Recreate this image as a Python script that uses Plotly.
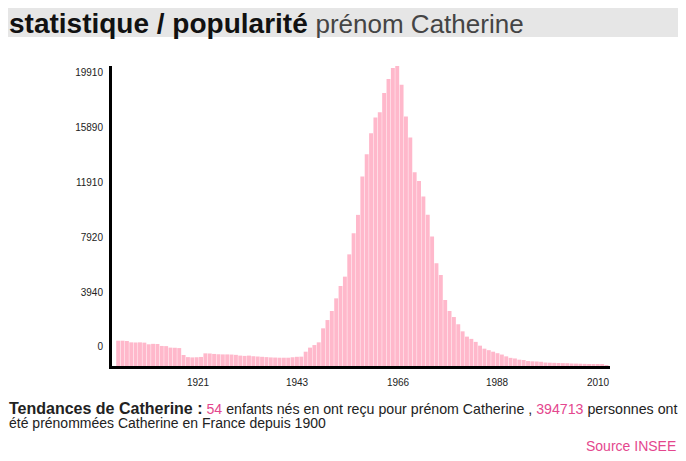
import plotly.graph_objects as go

# ---- data ----
years = list(range(1900, 2013))
births = [
    1680, 1680, 1660, 1570, 1560, 1570, 1550, 1440, 1470, 1460,   # 1900-1909
    1330, 1320, 1220, 1210, 1190, 730, 590, 570, 580, 600,        # 1910-1919
    840, 830, 800, 780, 770, 770, 760, 740, 690, 670,             # 1920-1929
    690, 650, 630, 610, 590, 570, 560, 550, 550, 550,             # 1930-1939
    580, 610, 620, 950, 1220, 1390, 1570, 2500, 3050, 3650,       # 1940-1949
    4490, 5310, 5930, 7410, 8810, 10030, 12570, 14050, 15450, 16490,  # 1950-1959
    16840, 18110, 19040, 19770, 19910, 18660, 16560, 15160, 12860, 12280,  # 1960-1969
    11250, 10030, 8590, 6820, 6040, 4380, 3650, 3250, 2770, 2300,  # 1970-1979
    1950, 1800, 1600, 1350, 1150, 1050, 950, 850, 760, 640,        # 1980-1989
    540, 500, 420, 400, 330, 310, 300, 280, 230, 220,              # 1990-1999
    210, 200, 190, 185, 165, 160, 150, 140, 130, 120,              # 2000-2009
    95, 75, 54,                                                    # 2010-2012
]
x_tick_labels = ["1921", "1943", "1966", "1988", "2010"]
y_tick_labels = ["0", "3940", "7920", "11910", "15890", "19910"]

# ---- geometry (pixels in the 686x461 window; page body has an 8px margin) ----
OFF = 8
W, H = 686 - OFF, 461 - OFF
PL, PR, PT, PB = 112, 610, 66, 366          # plot area edges (window coords)
YMAX = 19910
PX_PER_YEAR = 4.36
XMIN = years[0] - 0.5 - 4.0 / PX_PER_YEAR
XMAX = XMIN + (PR - PL) / PX_PER_YEAR


def px_to_year(px):
    return XMIN + (px - PL) / PX_PER_YEAR


def py_to_val(py):
    return (PB - py) / (PB - PT) * YMAX


def pxp(px):
    return (px - PL) / (PR - PL)


def pyp(py):
    return (PB - py) / (PB - PT)


x_tick_px = [198, 297, 398, 497, 598]
y_tick_py = [346, 292, 237, 182, 127, 72]

FONT = "Liberation Sans, Arial, Helvetica, sans-serif"
PINK = "#ffb8cb"
MAGENTA = "#e4478e"

fig = go.Figure()
fig.add_trace(go.Bar(
    x=years, y=births,
    marker=dict(color=PINK, line=dict(width=0)),
    hoverinfo="x+y",
))

fig.update_layout(
    width=W, height=H,
    margin=dict(l=PL - OFF, r=686 - PR, t=PT - OFF, b=461 - PB, pad=0),
    paper_bgcolor="white", plot_bgcolor="white",
    bargap=0.1,
    showlegend=False,
    font=dict(family=FONT, color="#222"),
    xaxis=dict(
        range=[XMIN, XMAX], showgrid=False, zeroline=False,
        showline=True, linecolor="black", linewidth=3,
        tickmode="array", tickvals=[px_to_year(p) for p in x_tick_px],
        ticktext=x_tick_labels, ticks="", tickfont=dict(size=10, color="#222"),
        ticklabelstandoff=5,
        fixedrange=True,
    ),
    yaxis=dict(
        range=[0, YMAX], showgrid=False, zeroline=False,
        showline=True, linecolor="black", linewidth=3,
        tickmode="array", tickvals=[py_to_val(p) for p in y_tick_py],
        ticktext=y_tick_labels, ticks="", tickfont=dict(size=10, color="#222"),
        ticklabelstandoff=4,
        fixedrange=True,
    ),
    shapes=[dict(
        type="rect", xref="paper", yref="paper", layer="below",
        x0=pxp(8), x1=pxp(678), y0=pyp(37), y1=pyp(8),
        fillcolor="#e6e6e6", line=dict(width=0),
    )],
    annotations=[
        dict(xref="paper", yref="paper", x=pxp(7), y=pyp(23),
             xanchor="left", yanchor="middle", showarrow=False,
             text=("<b>statistique / popularité</b> "
                   "<span style='color:#444;font-size:26px'>prénom Catherine</span>"),
             font=dict(family=FONT, size=28, color="#111")),
        dict(xref="paper", yref="paper", x=pxp(7), y=pyp(408),
             xanchor="left", yanchor="middle", showarrow=False,
             text=("<span style='font-size:16px'><b>Tendances de Catherine :</b></span> "
                   f"<span style='color:{MAGENTA}'>54</span> enfants nés en ont reçu pour prénom Catherine , "
                   f"<span style='color:{MAGENTA}'>394713</span> personnes ont"),
             font=dict(family=FONT, size=14.2, color="#222")),
        dict(xref="paper", yref="paper", x=pxp(7), y=pyp(423),
             xanchor="left", yanchor="middle", showarrow=False,
             text="été prénommées Catherine en France depuis 1900",
             font=dict(family=FONT, size=14, color="#222")),
        dict(xref="paper", yref="paper", x=pxp(678), y=pyp(446),
             xanchor="right", yanchor="middle", showarrow=False,
             text="Source INSEE",
             font=dict(family=FONT, size=14, color=MAGENTA)),
    ],
)

fig.write_html("out.html", config={"displayModeBar": False})
